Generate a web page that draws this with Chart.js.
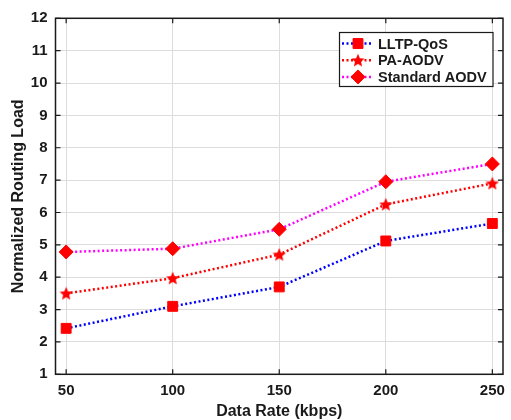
<!DOCTYPE html>
<html>
<head>
<meta charset="utf-8">
<script src="https://cdn.jsdelivr.net/npm/chart.js@4.4.0/dist/chart.umd.min.js"></script>
<style>
  html, body { margin: 0; padding: 0; background: #fff; }
  #wrap { width: 511px; height: 420px; }
</style>
</head>
<body>
<div id="wrap"><canvas id="chart"></canvas></div>
<script>
  'use strict';

  var rates = [50, 100, 150, 200, 250];
  var lltpQos = [2.42, 3.1, 3.7, 5.12, 5.66];
  var paAodv = [3.5, 3.97, 4.7, 6.25, 6.9];
  var stdAodv = [4.78, 4.88, 5.48, 6.95, 7.5];
  var seriesNames = ['LLTP-QoS', 'PA-AODV', 'Standard AODV'];
  var lineColors = ['#0000ff', '#ff0000', '#ff00ff'];

  var FONT = '"Liberation Sans", Arial, sans-serif';
  var INK = '#1a1a1a';

  // filled five-point star, since the built-in 'star' is only strokes
  function makeStar(size) {
    var c = document.createElement('canvas');
    c.width = size; c.height = size;
    var g = c.getContext('2d');
    var cx = size / 2, cy = size / 2 + 0.6, ro = size / 2, ri = ro * 0.45;
    g.beginPath();
    for (var i = 0; i < 10; i++) {
      var r = i % 2 ? ri : ro;
      var a = -Math.PI / 2 + i * Math.PI / 5;
      g.lineTo(cx + r * Math.cos(a), cy + r * Math.sin(a));
    }
    g.closePath();
    g.fillStyle = '#ff0000';
    g.fill();
    return c;
  }
  var starImg = makeStar(14);
  var markers = ['rect', starImg, 'rectRot'];
  var markerRadius = [7, 7, 7];

  function toPoints(ys) {
    return rates.map(function (x, i) { return { x: x, y: ys[i] }; });
  }

  var datasets = [lltpQos, paAodv, stdAodv].map(function (ys, i) {
    return {
      label: seriesNames[i],
      data: toPoints(ys),
      borderColor: lineColors[i],
      borderWidth: 2.5,
      borderDash: [2, 2.5],
      fill: false,
      tension: 0,
      pointStyle: markers[i],
      pointRadius: markerRadius[i],
      pointBackgroundColor: '#ff0000',
      pointBorderColor: '#ff0000',
      pointBorderWidth: 1
    };
  });

  // box around the axes with inward tick marks on all four sides
  var frame = {
    id: 'frame',
    afterDraw: function (chart) {
      var ctx = chart.ctx, a = chart.chartArea;
      var xs = chart.scales.x, ys = chart.scales.y;
      ctx.save();
      ctx.strokeStyle = INK;
      ctx.lineWidth = 1.5;
      ctx.strokeRect(a.left, a.top, a.right - a.left, a.bottom - a.top);
      ctx.lineWidth = 1.2;
      ctx.beginPath();
      xs.ticks.forEach(function (t) {
        var px = xs.getPixelForValue(t.value);
        ctx.moveTo(px, a.bottom); ctx.lineTo(px, a.bottom - 5);
        ctx.moveTo(px, a.top); ctx.lineTo(px, a.top + 5);
      });
      ys.ticks.forEach(function (t) {
        var py = ys.getPixelForValue(t.value);
        ctx.moveTo(a.left, py); ctx.lineTo(a.left + 5, py);
        ctx.moveTo(a.right, py); ctx.lineTo(a.right - 5, py);
      });
      ctx.stroke();
      ctx.restore();
    }
  };

  // legend box in the upper right of the axes
  var legendBox = {
    id: 'legendBox',
    afterDraw: function (chart) {
      var ctx = chart.ctx;
      var bx = 339.5, by = 32.5, bw = 153.5, bh = 54;
      ctx.save();
      ctx.fillStyle = '#fff';
      ctx.fillRect(bx, by, bw, bh);
      ctx.strokeStyle = INK;
      ctx.lineWidth = 1.2;
      ctx.strokeRect(bx, by, bw, bh);
      chart.data.datasets.forEach(function (ds, i) {
        var y = by + 11 + i * 16.7;
        ctx.strokeStyle = ds.borderColor;
        ctx.lineWidth = 2.5;
        ctx.setLineDash([2, 2.5]);
        ctx.beginPath();
        ctx.moveTo(342, y); ctx.lineTo(372, y);
        ctx.stroke();
        ctx.setLineDash([]);
        ctx.fillStyle = '#ff0000';
        ctx.strokeStyle = '#ff0000';
        ctx.lineWidth = 1;
        Chart.helpers.drawPoint(ctx, {
          pointStyle: ds.pointStyle,
          radius: ds.pointRadius,
          rotation: 0,
          borderWidth: 1
        }, 358, y);
        ctx.fillStyle = INK;
        ctx.font = 'bold 14.5px ' + FONT;
        ctx.textBaseline = 'middle';
        ctx.textAlign = 'left';
        ctx.fillText(ds.label, 378, y + 1);
      });
      ctx.restore();
    }
  };

  var ctx = document.getElementById('chart');
  var chart = new Chart(ctx, {
    type: 'line',
    data: { datasets: datasets },
    plugins: [frame, legendBox],
    options: {
      responsive: true,
      maintainAspectRatio: false,
      animation: false,
      layout: { padding: { left: 9, right: 5.5, top: 18.3, bottom: 0 } },
      plugins: {
        legend: { display: false },
        tooltip: { enabled: false }
      },
      scales: {
        x: {
          type: 'linear',
          min: 45,
          max: 255,
          afterBuildTicks: function (s) {
            s.ticks = rates.map(function (v) { return { value: v }; });
          },
          afterFit: function (s) {
            s.height = 45.7;
            s.paddingLeft = 0;
            s.paddingRight = 0;
          },
          grid: { color: '#dcdcdc', lineWidth: 1, drawTicks: false },
          border: { display: false },
          ticks: {
            color: INK,
            padding: 8,
            maxRotation: 0,
            font: { family: FONT, size: 15, weight: 'bold' }
          },
          title: {
            display: true,
            text: 'Data Rate (kbps)',
            color: INK,
            padding: { top: 0, bottom: -1 },
            font: { family: FONT, size: 16, weight: 'bold' }
          }
        },
        y: {
          type: 'linear',
          min: 1,
          max: 12,
          afterFit: function (s) {
            s.width = 46.5;
            s.paddingTop = 0;
            s.paddingBottom = 0;
          },
          ticks: {
            stepSize: 1,
            color: INK,
            padding: 8,
            font: { family: FONT, size: 15, weight: 'bold' }
          },
          grid: { color: '#dcdcdc', lineWidth: 1, drawTicks: false },
          border: { display: false },
          title: {
            display: true,
            text: 'Normalized Routing Load',
            color: INK,
            padding: { top: 0, bottom: 0 },
            font: { family: FONT, size: 16, weight: 'bold' }
          }
        }
      }
    }
  });
</script>
</body>
</html>
